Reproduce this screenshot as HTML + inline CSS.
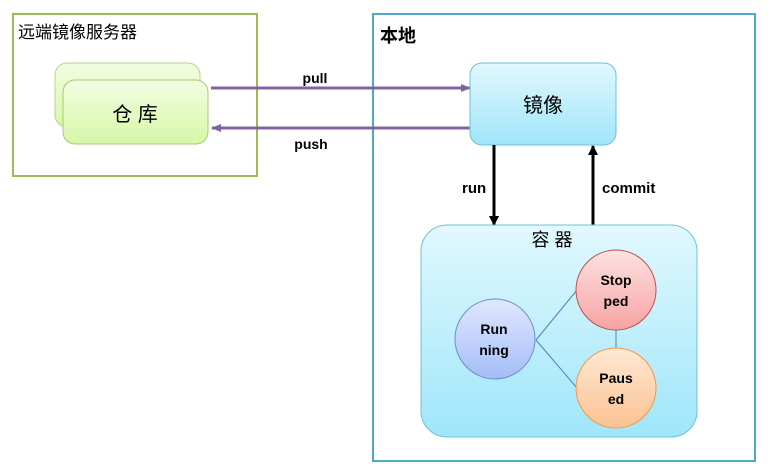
<!DOCTYPE html>
<html><head><meta charset="utf-8"><style>
html,body{margin:0;padding:0;background:#fff;width:769px;height:472px;overflow:hidden}
text{font-family:"Liberation Sans","Noto Sans CJK SC",sans-serif}
</style></head><body>
<svg width="769" height="472" viewBox="0 0 769 472" xmlns="http://www.w3.org/2000/svg">
<defs>
<linearGradient id="g" x1="0" y1="0" x2="0" y2="1"><stop offset="0" stop-color="#f3fde2"/><stop offset="1" stop-color="#d6f7a8"/></linearGradient>
<linearGradient id="b" x1="0" y1="0" x2="0" y2="1"><stop offset="0" stop-color="#e2f8fe"/><stop offset="1" stop-color="#9fe6fa"/></linearGradient>
<linearGradient id="rb" x1="0" y1="0" x2="0" y2="1"><stop offset="0" stop-color="#e0e8fe"/><stop offset="1" stop-color="#a4bdf8"/></linearGradient>
<linearGradient id="rr" x1="0" y1="0" x2="0" y2="1"><stop offset="0" stop-color="#fde2e2"/><stop offset="1" stop-color="#f7a3a3"/></linearGradient>
<linearGradient id="ro" x1="0" y1="0" x2="0" y2="1"><stop offset="0" stop-color="#fee8d4"/><stop offset="1" stop-color="#fbc292"/></linearGradient>
<marker id="ap" markerWidth="10" markerHeight="8" refX="9" refY="4" orient="auto" markerUnits="userSpaceOnUse"><path d="M0,0 L10,4 L0,8 Z" fill="#8064a2"/></marker>
<marker id="ak" markerWidth="10" markerHeight="10" refX="9" refY="5" orient="auto" markerUnits="userSpaceOnUse"><path d="M0,0 L10,5 L0,10 Z" fill="#000"/></marker>
</defs>
<rect x="13" y="14" width="244" height="162" fill="#fff" stroke="#9bbb59" stroke-width="2"/>
<text x="18" y="38" font-size="17" fill="#000">远端镜像服务器</text>
<rect x="55" y="63" width="145" height="64" rx="12" fill="url(#g)" stroke="#b6d48a" stroke-width="1"/>
<rect x="63" y="80" width="145" height="64" rx="12" fill="url(#g)" stroke="#a8c97a" stroke-width="1"/>
<text x="135" y="121" font-size="20" text-anchor="middle" font-family="Noto Serif CJK SC,serif">仓 库</text>
<rect x="373" y="14" width="382" height="447" fill="#fff" stroke="#4bacc6" stroke-width="2"/>
<text x="380" y="42" font-size="18" font-weight="bold">本地</text>
<line x1="211" y1="88" x2="470" y2="88" stroke="#8064a2" stroke-width="3" marker-end="url(#ap)"/>
<line x1="470" y1="128" x2="212" y2="128" stroke="#8064a2" stroke-width="3" marker-end="url(#ap)"/>
<text x="315" y="83" font-size="14" font-weight="bold" text-anchor="middle">pull</text>
<text x="311" y="149" font-size="14" font-weight="bold" text-anchor="middle">push</text>
<rect x="470" y="63" width="146" height="82" rx="12" fill="url(#b)" stroke="#6ec1d6" stroke-width="1"/>
<text x="543" y="112" font-size="20" text-anchor="middle" font-family="Noto Serif CJK SC,serif">镜像</text>
<line x1="494" y1="145" x2="494" y2="225" stroke="#000" stroke-width="3" marker-end="url(#ak)"/>
<line x1="593" y1="225" x2="593" y2="146" stroke="#000" stroke-width="3" marker-end="url(#ak)"/>
<text x="462" y="193" font-size="15" font-weight="bold">run</text>
<text x="602" y="193" font-size="15" font-weight="bold">commit</text>
<rect x="421" y="225" width="276" height="212" rx="26" fill="url(#b)" stroke="#6ec1d6" stroke-width="1"/>
<text x="552" y="246" font-size="18" text-anchor="middle" font-family="Noto Serif CJK SC,serif">容 器</text>
<line x1="536" y1="340" x2="577" y2="290" stroke="#4f81bd" stroke-width="1"/>
<line x1="536" y1="340" x2="577" y2="388" stroke="#4f81bd" stroke-width="1"/>
<line x1="616" y1="330" x2="616" y2="348" stroke="#4f81bd" stroke-width="1"/>
<circle cx="495" cy="339" r="40" fill="url(#rb)" stroke="#6c8ec8" stroke-width="1"/>
<circle cx="616" cy="290" r="40" fill="url(#rr)" stroke="#c0504d" stroke-width="1"/>
<circle cx="616" cy="388" r="40" fill="url(#ro)" stroke="#f79646" stroke-width="1"/>
<g font-size="14" font-weight="bold" text-anchor="middle">
<text x="494" y="334">Run</text><text x="494" y="355">ning</text>
<text x="616" y="285">Stop</text><text x="616" y="306">ped</text>
<text x="616" y="383">Paus</text><text x="616" y="404">ed</text>
</g>
</svg>
</body></html>
